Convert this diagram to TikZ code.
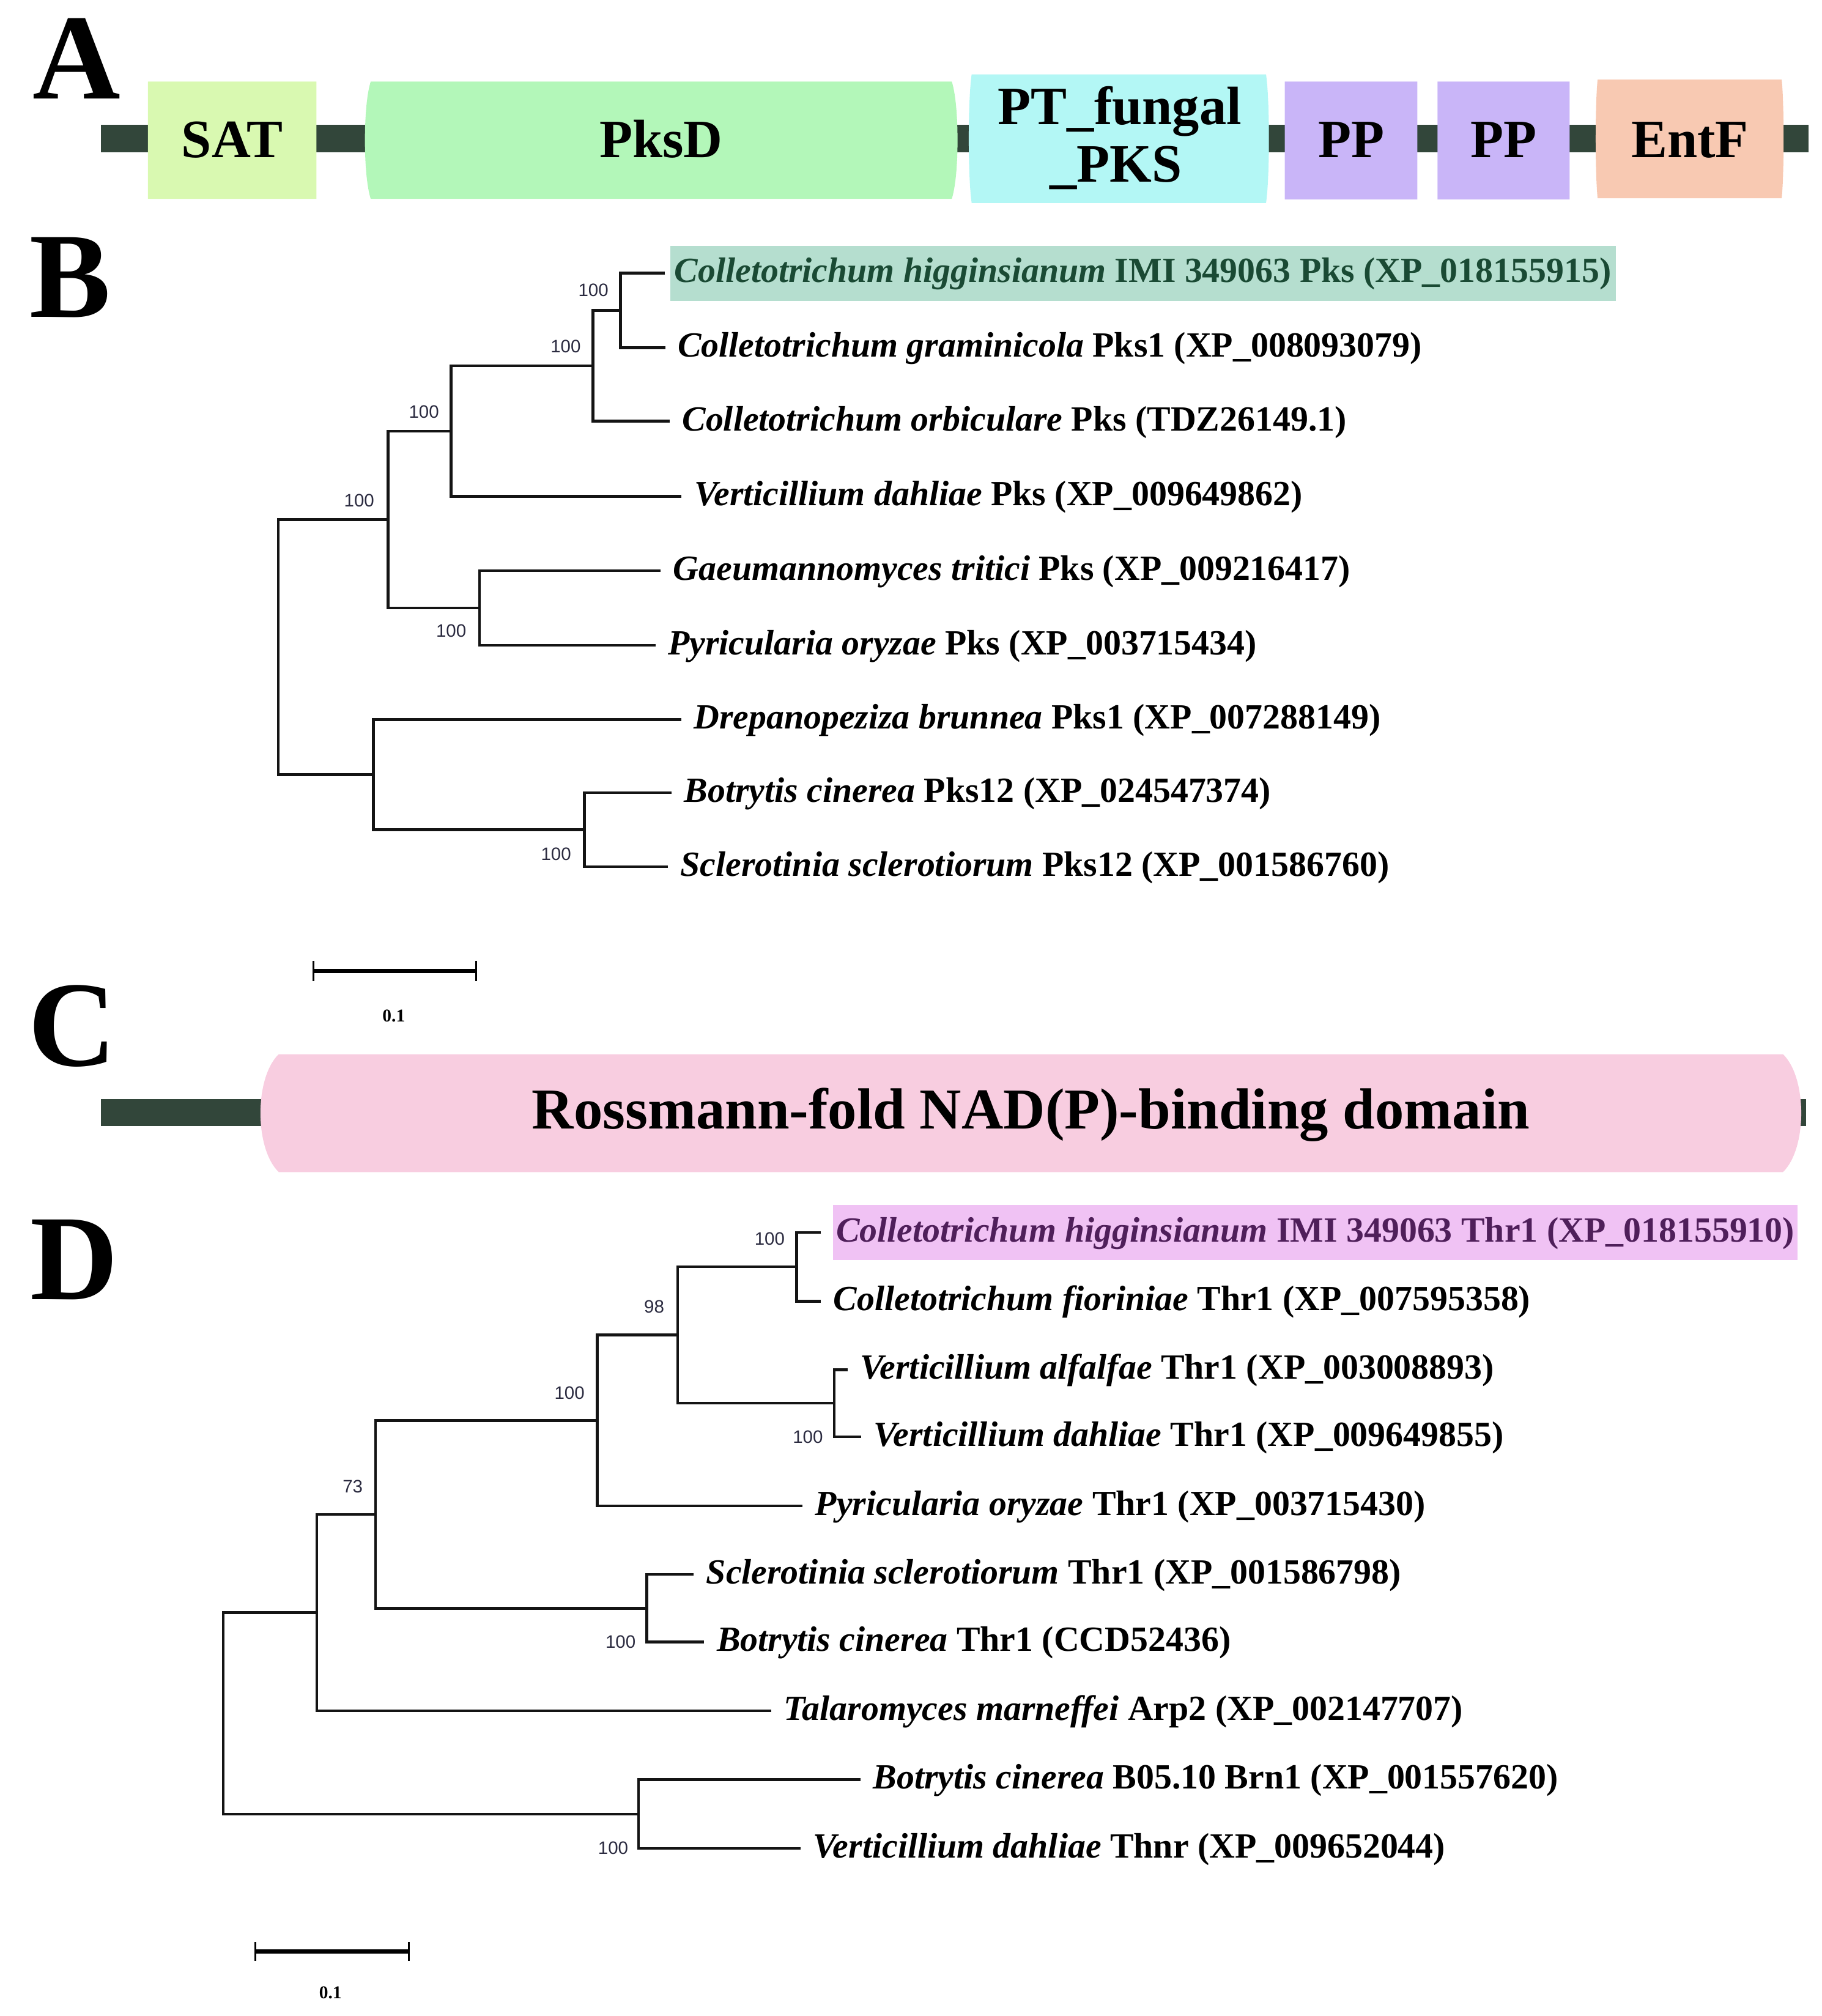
\documentclass[tikz,border=0pt]{standalone}
\usepackage{fontspec}
\setmainfont{Liberation Serif}
\newfontfamily\bootfont{Liberation Sans}
\definecolor{bbone}{HTML}{32463A}
\definecolor{satc}{HTML}{D9F9B1}
\definecolor{pksdc}{HTML}{B3F7B9}
\definecolor{ptc}{HTML}{B3F7F5}
\definecolor{ppc}{HTML}{C9B5F8}
\definecolor{entfc}{HTML}{F8C9B2}
\definecolor{rossc}{HTML}{F8CDE0}
\definecolor{hlgreen}{HTML}{B5DECF}
\definecolor{hlgreentxt}{HTML}{1A4A34}
\definecolor{hlpink}{HTML}{F0C2F4}
\definecolor{hlpinktxt}{HTML}{4F1F5A}
\definecolor{bootc}{HTML}{2B2B40}
\newcommand\domshape[6]{%
  \fill[#6] (#1,#2) -- (#3,#2)
    .. controls ({#3+#5},{#2+0.2*(#4-#2)}) and ({#3+#5},{#4-0.2*(#4-#2)}) .. (#3,#4)
    -- (#1,#4)
    .. controls ({#1-#5},{#4-0.2*(#4-#2)}) and ({#1-#5},{#2+0.2*(#4-#2)}) .. cycle;}
\begin{document}
\begin{tikzpicture}[x=0.02cm,y=-0.02cm,
  panel/.style={font=\bfseries\fontsize{54}{54}\selectfont, inner sep=0, anchor=base},
  domtext/.style={font=\bfseries\fontsize{24}{25.5}\selectfont, inner sep=0, anchor=base},
  tree/.style={line width=1.25pt, draw=black!92},
  leaf/.style={anchor=west, inner xsep=0.19cm, inner ysep=0pt, text height=11.8pt, text depth=3.5pt,
    font=\fontsize{15.7}{18}\selectfont\bfseries},
  hlB/.style={leaf, fill=hlgreen, text=hlgreentxt, inner xsep=0.07cm, inner ysep=4.6pt},
  hlD/.style={leaf, fill=hlpink, text=hlpinktxt, inner xsep=0.05cm, inner ysep=4.6pt},
  boot/.style={font=\bootfont\fontsize{8}{9}\selectfont, text=bootc, inner sep=0},
  scalebar/.style={line width=1.8pt, draw=black},
  scaletick/.style={line width=0.9pt, draw=black},
  scalelab/.style={font=\bfseries\fontsize{8}{9}\selectfont, inner sep=0}
]
\useasboundingbox (0,0) rectangle (1420,1571.6);

% ---------------- Panel A ----------------
\node[panel] (lA) at (59.6,77) {A};
\fill[bbone] (78.8,97.5) rectangle (1409.7,118.5);
\domshape{115.3}{63.6}{246.7}{155}{0}{satc}
\domshape{289}{63.6}{742}{155}{6}{pksdc}
\domshape{757.5}{58}{987}{158.2}{3}{ptc}
\domshape{1001.6}{63.6}{1105}{155.5}{0}{ppc}
\domshape{1120.7}{63.6}{1223.7}{155.5}{0}{ppc}
\domshape{1245.5}{62}{1389}{154.5}{2}{entfc}
\node[domtext] (sat) at (181,123) {SAT};
\node[domtext] (pksd) at (515.5,123) {PksD};
\node[domtext] (pt1) at (873,97) {PT\_fungal};
\node[domtext] (pt2) at (870,142) {\_PKS};
\node[domtext] (pp1) at (1053.3,123) {PP};
\node[domtext] (pp2) at (1172.2,123) {PP};
\node[domtext] (entf) at (1317.5,123) {EntF};

% ---------------- Panel B ----------------
\node[panel] (lB) at (55,247) {B};
\node[hlB] (B1) at (522,213) {\textit{Colletotrichum higginsianum} IMI 349063 Pks (XP\_018155915)};
\node[leaf] (B2) at (518.6,271) {\textit{Colletotrichum graminicola} Pks1 (XP\_008093079)};
\node[leaf] (B3) at (522,328.4) {\textit{Colletotrichum orbiculare} Pks (TDZ26149.1)};
\node[leaf] (B4) at (531.4,387) {\textit{Verticillium dahliae} Pks (XP\_009649862)};
\node[leaf] (B5) at (515,444.8) {\textit{Gaeumannomyces tritici} Pks (XP\_009216417)};
\node[leaf] (B6) at (511,503) {\textit{Pyricularia oryzae} Pks (XP\_003715434)};
\node[leaf] (B7) at (531,561) {\textit{Drepanopeziza brunnea} Pks1 (XP\_007288149)};
\node[leaf] (B8) at (523.6,618) {\textit{Botrytis cinerea} Pks12 (XP\_024547374)};
\node[leaf] (B9) at (520.7,675.6) {\textit{Sclerotinia sclerotiorum} Pks12 (XP\_001586760)};

\coordinate (b1) at (483.6,242);
\coordinate (b2) at (462.4,285.2);
\coordinate (b3) at (351.7,336.1);
\coordinate (b5) at (373.9,473.9);
\coordinate (b4) at (302.4,405);
\coordinate (b7) at (455.6,646.8);
\coordinate (b6) at (291.2,603.9);
\coordinate (broot) at (217,504.5);

\draw[tree, shorten <=0.07cm] (B1.west) -| (b1) |- (B2.west);
\draw[tree] (b1) -| (b2) |- (B3.west);
\draw[tree] (b2) -| (b3) |- (B4.west);
\draw[tree] (B5.west) -| (b5) |- (B6.west);
\draw[tree] (b3) -| (b4) |- (b5);
\draw[tree] (B8.west) -| (b7) |- (B9.west);
\draw[tree] (B7.west) -| (b6) |- (b7);
\draw[tree] (b4) -| (broot) |- (b6);

\node[boot] (bs1) at (462.6,226.4) {100};
\node[boot] (bs2) at (441,270) {100};
\node[boot] (bs3) at (330.5,321) {100};
\node[boot] (bs4) at (280,390) {100};
\node[boot] (bs5) at (351.7,492) {100};
\node[boot] (bs6) at (433.5,666) {100};

\coordinate (sbB1) at (244.5,757);
\coordinate (sbB2) at (371.3,757);
\draw[scalebar] (sbB1) -- (sbB2);
\draw[scaletick] ([yshift=0.16cm]sbB1) -- ([yshift=-0.16cm]sbB1);
\draw[scaletick] ([yshift=0.16cm]sbB2) -- ([yshift=-0.16cm]sbB2);
\node[scalelab] (sbBl) at (307,792) {0.1};

% ---------------- Panel C ----------------
\node[panel] (lC) at (56.5,831) {C};
\fill[bbone] (78.8,857) rectangle (1408,878);
\domshape{217.3}{821.8}{1390}{913.7}{19}{rossc}
\node[domtext, font=\bfseries\fontsize{25.7}{27}\selectfont] (ross) at (803.7,880) {Rossmann-fold NAD(P)-binding domain};

% ---------------- Panel D ----------------
\node[panel] (lD) at (58,1013) {D};
\node[hlD] (D1) at (649,960.7) {\textit{Colletotrichum higginsianum} IMI 349063 Thr1 (XP\_018155910)};
\node[leaf] (D2) at (640,1014.3) {\textit{Colletotrichum fioriniae} Thr1 (XP\_007595358)};
\node[leaf] (D3) at (660.8,1067.8) {\textit{Verticillium alfalfae} Thr1 (XP\_003008893)};
\node[leaf] (D4) at (671.3,1120) {\textit{Verticillium dahliae} Thr1 (XP\_009649855)};
\node[leaf] (D5) at (625.7,1174) {\textit{Pyricularia oryzae} Thr1 (XP\_003715430)};
\node[leaf] (D6) at (540.8,1227.4) {\textit{Sclerotinia sclerotiorum} Thr1 (XP\_001586798)};
\node[leaf] (D7) at (549,1280) {\textit{Botrytis cinerea} Thr1 (CCD52436)};
\node[leaf] (D8) at (601.3,1333.7) {\textit{Talaromyces marneffei} Arp2 (XP\_002147707)};
\node[leaf] (D9) at (670.9,1387.3) {\textit{Botrytis cinerea} B05.10 Brn1 (XP\_001557620)};
\node[leaf] (D10) at (624.2,1441) {\textit{Verticillium dahliae} Thnr (XP\_009652044)};

\coordinate (d1) at (621.1,987.5);
\coordinate (d2) at (650.3,1093.9);
\coordinate (d3) at (528.4,1040.7);
\coordinate (d4) at (465.6,1107.4);
\coordinate (d5) at (504.3,1253.7);
\coordinate (d6) at (292.7,1180.5);
\coordinate (d7) at (247,1257.1);
\coordinate (d8) at (497.8,1414.2);
\coordinate (droot) at (174,1335.6);

\draw[tree, shorten <=0.18cm] (D1.west) -| (d1) |- (D2.west);
\draw[tree] (D3.west) -| (d2) |- (D4.west);
\draw[tree] (d1) -| (d3) |- (d2);
\draw[tree] (d3) -| (d4) |- (D5.west);
\draw[tree] (D6.west) -| (d5) |- (D7.west);
\draw[tree] (d4) -| (d6) |- (d5);
\draw[tree] (d6) -| (d7) |- (D8.west);
\draw[tree] (D9.west) -| (d8) |- (D10.west);
\draw[tree] (d7) -| (droot) |- (d8);

\node[boot] (ds1) at (600,965.7) {100};
\node[boot] (ds2) at (510,1018.7) {98};
\node[boot] (ds3) at (444,1086) {100};
\node[boot] (ds4) at (629.8,1120) {100};
\node[boot] (ds5) at (275,1159) {73};
\node[boot] (ds6) at (483.8,1280) {100};
\node[boot] (ds7) at (478,1440.6) {100};

\coordinate (sbD1) at (199.2,1521.4);
\coordinate (sbD2) at (318.7,1521.4);
\draw[scalebar] (sbD1) -- (sbD2);
\draw[scaletick] ([yshift=0.15cm]sbD1) -- ([yshift=-0.15cm]sbD1);
\draw[scaletick] ([yshift=0.15cm]sbD2) -- ([yshift=-0.15cm]sbD2);
\node[scalelab] (sbDl) at (257.6,1553.5) {0.1};
\end{tikzpicture}
\end{document}
